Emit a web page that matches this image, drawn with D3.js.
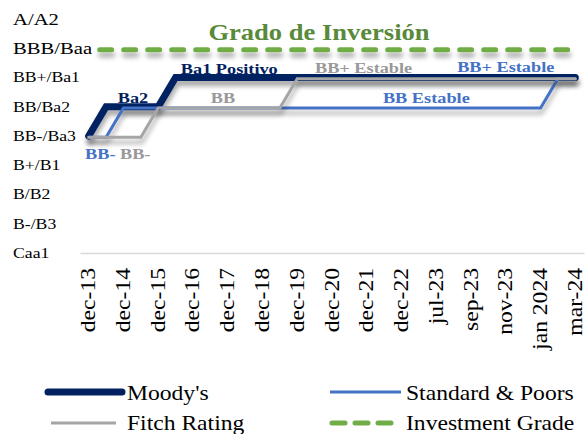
<!DOCTYPE html>
<html>
<head>
<meta charset="utf-8">
<script src="https://cdn.jsdelivr.net/npm/d3@7/dist/d3.min.js"></script>
<style>
  body { margin: 0; background: #fff; }
  svg { display: block; font-family: "Liberation Serif", "Times New Roman", serif; }
</style>
</head>
<body>
<svg id="chart" width="586" height="434"></svg>
<script>
// rating scale, bottom to top
const ratings = ["Caa1", "B-/B3", "B/B2", "B+/B1", "BB-/Ba3", "BB/Ba2", "BB+/Ba1", "BBB/Baa", "A/A2"];

// half-year / monthly observation points; only some get a tick label
const periods = ["dec-13", "jun-14", "dec-14", "jun-15", "dec-15", "jun-16", "dec-16", "jun-17",
  "dec-17", "jun-18", "dec-18", "jun-19", "dec-19", "jun-20", "dec-20", "jun-21", "dec-21",
  "jun-22", "dec-22", "abr-23", "jul-23", "ago-23", "sep-23", "oct-23", "nov-23", "dic-23",
  "jan 2024", "feb-24", "mar-24"];

const tickLabels = ["dec-13", "dec-14", "dec-15", "dec-16", "dec-17", "dec-18", "dec-19",
  "dec-20", "dec-21", "dec-22", "jul-23", "sep-23", "nov-23", "jan 2024", "mar-24"];

const moodys = ["BB-/Ba3", "BB/Ba2", "BB/Ba2", "BB/Ba2", "BB/Ba2",
  "BB+/Ba1", "BB+/Ba1", "BB+/Ba1", "BB+/Ba1", "BB+/Ba1", "BB+/Ba1", "BB+/Ba1", "BB+/Ba1",
  "BB+/Ba1", "BB+/Ba1", "BB+/Ba1", "BB+/Ba1", "BB+/Ba1", "BB+/Ba1", "BB+/Ba1", "BB+/Ba1",
  "BB+/Ba1", "BB+/Ba1", "BB+/Ba1", "BB+/Ba1", "BB+/Ba1", "BB+/Ba1", "BB+/Ba1", "BB+/Ba1"];

const standardPoors = ["BB-/Ba3", "BB-/Ba3", "BB/Ba2", "BB/Ba2", "BB/Ba2", "BB/Ba2", "BB/Ba2",
  "BB/Ba2", "BB/Ba2", "BB/Ba2", "BB/Ba2", "BB/Ba2", "BB/Ba2", "BB/Ba2", "BB/Ba2", "BB/Ba2",
  "BB/Ba2", "BB/Ba2", "BB/Ba2", "BB/Ba2", "BB/Ba2", "BB/Ba2", "BB/Ba2", "BB/Ba2", "BB/Ba2",
  "BB/Ba2", "BB/Ba2", "BB+/Ba1", "BB+/Ba1"];

const fitch = ["BB-/Ba3", "BB-/Ba3", "BB-/Ba3", "BB-/Ba3", "BB/Ba2", "BB/Ba2", "BB/Ba2",
  "BB/Ba2", "BB/Ba2", "BB/Ba2", "BB/Ba2", "BB/Ba2", "BB+/Ba1", "BB+/Ba1", "BB+/Ba1",
  "BB+/Ba1", "BB+/Ba1", "BB+/Ba1", "BB+/Ba1", "BB+/Ba1", "BB+/Ba1", "BB+/Ba1", "BB+/Ba1",
  "BB+/Ba1", "BB+/Ba1", "BB+/Ba1", "BB+/Ba1", "BB+/Ba1", "BB+/Ba1"];

const investmentGrade = ["BBB/Baa", "BBB/Baa", "BBB/Baa", "BBB/Baa", "BBB/Baa", "BBB/Baa",
  "BBB/Baa", "BBB/Baa", "BBB/Baa", "BBB/Baa", "BBB/Baa", "BBB/Baa", "BBB/Baa", "BBB/Baa",
  "BBB/Baa", "BBB/Baa", "BBB/Baa", "BBB/Baa", "BBB/Baa", "BBB/Baa", "BBB/Baa", "BBB/Baa",
  "BBB/Baa", "BBB/Baa", "BBB/Baa", "BBB/Baa", "BBB/Baa", "BBB/Baa", "BBB/Baa"];

const seriesNames = ["Moody's", "Standard & Poors", "Fitch Rating", "Investment Grade"];

// the source font runs wider than Times, so stretch text along its direction
const SX = 1.18;
const navy = "#002060", blue = "#4472c4", grey = "#a5a5a5", green = "#70ad47";

const svg = d3.select("#chart");

// user-space region so flat lines (zero-height bbox) still get a shadow
const defs = svg.append("defs");
defs.append("filter")
    .attr("id", "shadow")
    .attr("filterUnits", "userSpaceOnUse")
    .attr("x", 0).attr("y", 0)
    .attr("width", 586).attr("height", 434)
  .append("feDropShadow")
    .attr("dx", 1).attr("dy", 5)
    .attr("stdDeviation", 2.5)
    .attr("flood-color", "#000")
    .attr("flood-opacity", 0.35);

const x = d3.scaleBand().domain(periods).range([80, 584]);
const y = d3.scalePoint().domain(ratings).range([253, 19]);
const cx = p => x(p) + x.bandwidth() / 2;
// fractional position along the periods, for annotations
const xi = t => cx(periods[0]) + t * x.step();

// x axis
const axisG = svg.append("g")
  .attr("transform", "translate(0,253)")
  .call(d3.axisBottom(x).tickValues(tickLabels).tickSize(0).tickSizeOuter(0));

axisG.attr("font-family", null).attr("font-size", null);
axisG.select(".domain").attr("stroke", "#d9d9d9").attr("stroke-width", 1.5);
axisG.selectAll(".tick text")
  .attr("y", null).attr("dy", null)
  .attr("text-anchor", "end")
  .attr("transform", `translate(6.5,15) rotate(-90) scale(${SX},1)`)
  .style("font-size", "20px")
  .attr("fill", "#000");

const line = off => d3.line()
  .x((d, i) => cx(periods[i]))
  .y(d => y(d) + off);

// investment grade threshold
svg.append("path")
  .datum(investmentGrade)
  .attr("d", line(1.5))
  .attr("fill", "none")
  .attr("stroke", green)
  .attr("stroke-width", 5)
  .attr("stroke-linecap", "round")
  .attr("stroke-dasharray", "12 12")
  .attr("stroke-dashoffset", 13)
  .attr("filter", "url(#shadow)");

// y labels
svg.append("g")
  .selectAll("text")
  .data(ratings)
  .join("text")
    .attr("transform", d => `translate(13,${y(d)}) scale(${SX},1)`)
    .attr("dy", "0.33em")
    .style("font-size", d => (d === "A/A2" || d === "BBB/Baa") ? "17.5px" : "15px")
    .attr("fill", "#000")
    .text(d => d);

const lines = [
  { data: moodys, color: navy, width: 7, off: 0 },
  { data: standardPoors, color: blue, width: 3, off: 1.2 },
  { data: fitch, color: grey, width: 3, off: 1.2 }
];

svg.append("g")
  .selectAll("path")
  .data(lines)
  .join("path")
    .attr("d", d => line(d.off)(d.data))
    .attr("fill", "none")
    .attr("stroke", d => d.color)
    .attr("stroke-width", d => d.width)
    .attr("stroke-linecap", "round")
    .attr("stroke-linejoin", "miter")
    .attr("filter", "url(#shadow)");

// title
svg.append("text")
  .attr("transform", `translate(319,40) scale(${SX},1)`)
  .attr("text-anchor", "middle")
  .style("font-size", "22.5px")
  .style("font-weight", "bold")
  .attr("fill", "#588a3a")
  .text("Grado de Inversión");

// rating annotations
const notes = [
  { text: "Ba2", color: navy, t: 2.55, r: "BB/Ba2", dy: -4, anchor: "middle" },
  { text: "Ba1 Positivo", color: navy, t: 5.3, r: "BB+/Ba1", dy: -3.5, anchor: "start" },
  { text: "BB", color: "#999", t: 7.73, r: "BB/Ba2", dy: -4, anchor: "middle" },
  { text: "BB+ Estable", color: "#999", t: 13.02, r: "BB+/Ba1", dy: -4.5, anchor: "start" },
  { text: "BB Estable", color: blue, t: 16.93, r: "BB/Ba2", dy: -4, anchor: "start" },
  { text: "BB+ Estable", color: blue, t: 21.2, r: "BB+/Ba1", dy: -5.5, anchor: "start" },
  { text: "BB-", color: blue, t: -0.21, r: "BB-/Ba3", dy: 23, anchor: "start" },
  { text: "BB-", color: "#999", t: 1.8, r: "BB-/Ba3", dy: 23, anchor: "start" }
];

svg.append("g")
  .selectAll("text")
  .data(notes)
  .join("text")
    .attr("transform", d => `translate(${xi(d.t)},${y(d.r) + d.dy}) scale(${SX},1)`)
    .attr("text-anchor", d => d.anchor)
    .style("font-size", "15.5px")
    .style("font-weight", "bold")
    .attr("fill", d => d.color)
    .text(d => d.text);

// legend
const legendStyle = [
  { color: navy, width: 7, dash: null, x: 48, len: 74 },
  { color: blue, width: 3, dash: null, x: 330, len: 71 },
  { color: grey, width: 3, dash: null, x: 51, len: 65 },
  { color: green, width: 5, dash: "13 10", x: 332, len: 59 }
];

const legend = svg.append("g")
  .selectAll("g")
  .data(seriesNames)
  .join("g")
    .attr("transform", (d, i) => `translate(${legendStyle[i].x},${i < 2 ? 392 : 423})`);

legend.append("line")
  .attr("x1", 0)
  .attr("x2", (d, i) => legendStyle[i].len)
  .attr("stroke", (d, i) => legendStyle[i].color)
  .attr("stroke-width", (d, i) => legendStyle[i].width)
  .attr("stroke-linecap", (d, i) => i === 0 || i === 3 ? "round" : "butt")
  .attr("stroke-dasharray", (d, i) => legendStyle[i].dash);

legend.append("text")
  .attr("transform", (d, i) => `translate(${(i % 2 ? 406 : 127) - legendStyle[i].x},${i < 2 ? 8 : 7}) scale(${SX},1)`)
  .style("font-size", "20px")
  .attr("fill", "#000")
  .text(d => d);
</script>
</body>
</html>
